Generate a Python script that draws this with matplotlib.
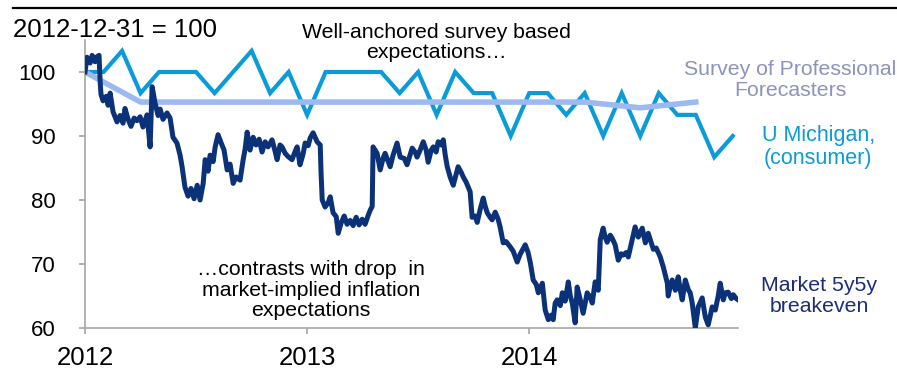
import numpy as np
import matplotlib
matplotlib.use("Agg")
import matplotlib.pyplot as plt
from matplotlib.lines import Line2D

plt.rcParams['font.family'] = ['Liberation Sans', 'DejaVu Sans']

# Market 5y5y breakeven, rebased (2012-12-31 = 100)
mkt_t = [2012.000, 2012.009, 2012.023, 2012.032, 2012.045, 2012.054, 2012.063, 2012.068,
         2012.072, 2012.081, 2012.095, 2012.104, 2012.113, 2012.126, 2012.144, 2012.158,
         2012.171, 2012.180, 2012.194, 2012.207, 2012.221, 2012.234, 2012.248, 2012.261,
         2012.279, 2012.293, 2012.302, 2012.315, 2012.329, 2012.338, 2012.351, 2012.369,
         2012.383, 2012.396, 2012.414, 2012.428, 2012.437, 2012.450, 2012.464, 2012.477,
         2012.491, 2012.505, 2012.518, 2012.532, 2012.541, 2012.554, 2012.563, 2012.577,
         2012.586, 2012.599, 2012.613, 2012.626, 2012.640, 2012.653, 2012.667, 2012.680,
         2012.698, 2012.712, 2012.721, 2012.730, 2012.743, 2012.757, 2012.770, 2012.784,
         2012.797, 2012.811, 2012.824, 2012.842, 2012.856, 2012.865, 2012.878, 2012.887,
         2012.901, 2012.914, 2012.932, 2012.946, 2012.955, 2012.968, 2012.982, 2012.991,
         2013.005, 2013.014, 2013.027, 2013.045, 2013.059, 2013.063, 2013.068, 2013.081,
         2013.095, 2013.104, 2013.117, 2013.131, 2013.140, 2013.153, 2013.167, 2013.180,
         2013.194, 2013.207, 2013.221, 2013.234, 2013.248, 2013.261, 2013.275, 2013.284,
         2013.293, 2013.297, 2013.306, 2013.315, 2013.329, 2013.342, 2013.351, 2013.365,
         2013.374, 2013.387, 2013.405, 2013.419, 2013.437, 2013.450, 2013.473, 2013.486,
         2013.495, 2013.509, 2013.523, 2013.536, 2013.545, 2013.559, 2013.568, 2013.581,
         2013.590, 2013.604, 2013.613, 2013.622, 2013.631, 2013.644, 2013.658, 2013.671,
         2013.680, 2013.694, 2013.703, 2013.716, 2013.734, 2013.743, 2013.757, 2013.766,
         2013.779, 2013.793, 2013.802, 2013.811, 2013.824, 2013.833, 2013.847, 2013.860,
         2013.869, 2013.883, 2013.896, 2013.914, 2013.928, 2013.946, 2013.959, 2013.982,
         2013.995, 2014.005, 2014.018, 2014.032, 2014.041, 2014.059, 2014.072, 2014.086,
         2014.099, 2014.108, 2014.117, 2014.126, 2014.140, 2014.149, 2014.162, 2014.176,
         2014.185, 2014.194, 2014.207, 2014.216, 2014.230, 2014.243, 2014.261, 2014.275,
         2014.284, 2014.297, 2014.311, 2014.320, 2014.333, 2014.342, 2014.351, 2014.365,
         2014.374, 2014.387, 2014.401, 2014.414, 2014.423, 2014.437, 2014.446, 2014.464,
         2014.477, 2014.491, 2014.509, 2014.523, 2014.536, 2014.545, 2014.559, 2014.572,
         2014.590, 2014.604, 2014.622, 2014.626, 2014.635, 2014.644, 2014.658, 2014.671,
         2014.680, 2014.689, 2014.703, 2014.716, 2014.725, 2014.734, 2014.748, 2014.761,
         2014.779, 2014.793, 2014.806, 2014.824, 2014.838, 2014.851, 2014.860, 2014.874,
         2014.883, 2014.896, 2014.910, 2014.919, 2014.932, 2014.941]
mkt_v = [100.0, 102.3, 101.4, 102.6, 101.6, 102.4, 102.6, 98.5,
         96.5, 95.5, 96.2, 94.8, 96.7, 93.8, 92.2, 93.2,
         92.0, 94.3, 92.6, 91.5, 92.8, 92.4, 93.0, 91.4,
         93.3, 88.3, 97.7, 95.2, 93.2, 94.2, 92.6, 93.6,
         92.8, 89.8, 88.9, 87.0, 85.2, 82.0, 80.6, 81.8,
         80.2, 82.3, 80.0, 82.6, 86.3, 84.5, 87.0, 86.0,
         88.3, 90.2, 88.9, 87.8, 84.7, 85.6, 82.6, 83.6,
         83.1, 86.3, 88.0, 90.6, 87.8, 89.8, 88.6, 89.5,
         87.5, 89.1, 88.3, 89.4, 87.6, 86.3, 88.6, 88.3,
         87.3, 86.8, 86.3, 87.6, 88.3, 85.5, 87.2, 88.9,
         88.5, 89.7, 90.5, 89.1, 88.6, 84.0, 80.0, 78.9,
         79.6, 80.5, 78.0, 77.4, 74.8, 76.4, 77.5, 76.2,
         76.8, 76.0, 77.3, 76.1, 77.0, 76.2, 77.6, 78.4,
         79.0, 88.3, 87.8, 87.3, 84.7, 86.5, 87.3, 86.0,
         85.2, 87.0, 88.9, 86.7, 86.5, 85.5, 88.1, 87.5,
         86.7, 87.8, 89.1, 87.8, 85.9, 87.8, 88.3, 87.5,
         89.1, 88.6, 89.4, 87.0, 85.2, 83.6, 82.3, 84.0,
         85.2, 84.3, 83.6, 82.8, 81.3, 77.3, 77.5, 76.5,
         78.5, 80.3, 79.0, 78.0, 77.3, 76.9, 78.1, 77.0,
         75.8, 73.3, 73.5, 72.7, 72.0, 70.3, 71.5, 73.0,
         71.8, 70.2, 67.5, 66.8, 65.5, 67.0, 62.8, 61.3,
         62.0, 61.3, 63.9, 64.4, 63.5, 65.5, 64.2, 67.2,
         65.0, 63.9, 60.8, 66.4, 64.4, 62.3, 65.5, 64.8,
         63.9, 67.2, 65.9, 73.8, 75.6, 74.2, 73.4, 74.5,
         74.0, 73.0, 70.6, 71.6, 71.4, 71.8, 71.1, 73.8,
         75.8, 74.2, 75.6, 73.3, 74.8, 73.8, 72.3, 72.5,
         71.1, 69.5, 67.0, 65.0, 66.5, 67.5, 65.9, 68.0,
         66.0, 64.4, 67.5, 66.0, 65.5, 63.9, 60.0, 63.3,
         64.7, 61.7, 60.5, 63.3, 62.8, 65.0, 67.0, 64.4,
         65.5, 65.6, 64.6, 65.2, 64.6, 64.4]

# U Michigan consumer survey, monthly Jan 2012 - Dec 2014
mich_v = [100.0, 100.0, 103.3, 96.7, 100.0, 100.0, 100.0, 96.7, 100.0, 103.3,
          96.7, 100.0, 93.3, 100.0, 100.0, 100.0, 100.0, 96.7, 100.0, 93.3,
          100.0, 96.7, 96.7, 90.0, 96.7, 96.7, 93.3, 96.7, 90.0, 96.7,
          90.0, 96.7, 93.3, 93.3, 86.7, 90.0]

# Survey of Professional Forecasters, quarterly from Q1 2012
spf_v = [100.0, 95.3, 95.3, 95.3, 95.3, 95.3, 95.3, 95.3, 95.3, 95.3, 94.4, 95.3]

c_mkt = '#0B3278'
c_mich = '#0A9BD8'
c_spf = '#9DB9F2'

mich_t = 2012 + np.arange(len(mich_v)) / 12
spf_t = 2012 + np.arange(len(spf_v)) / 4

fig = plt.figure(figsize=(8.97, 3.71), dpi=100)
ax = fig.add_axes([0.0948, 0.1159, 0.7279, 0.7763])

ax.plot(mich_t, mich_v, color=c_mich, lw=3.0, solid_joinstyle='miter', zorder=2)
ax.plot(spf_t, spf_v, color=c_spf, lw=4.0, zorder=3)
ax.plot(mkt_t, mkt_v, color=c_mkt, lw=3.6, zorder=4)

ax.set_xlim(2012, 2014.94)
ax.set_ylim(60, 105)
ax.set_xticks([2012, 2013, 2014])
ax.set_xticklabels(['2012', '2013', '2014'])
ax.set_yticks([60, 70, 80, 90, 100])

for s in ['top', 'right']:
    ax.spines[s].set_visible(False)
for s in ['left', 'bottom']:
    ax.spines[s].set_color('#A6A6A6')
    ax.spines[s].set_linewidth(1.2)
ax.tick_params(axis='both', colors='#A6A6A6', labelcolor='black',
               length=4, width=1.2, direction='out')
ax.tick_params(axis='y', pad=17, labelsize=16)
ax.tick_params(axis='x', pad=9, labelsize=18.5)

# annotations
fig.text(0.015, 0.919, '2012-12-31 = 100', fontsize=18.5, va='center', ha='left')
fig.text(0.487, 0.885, 'Well-anchored survey based\nexpectations…', fontsize=15.3,
         ha='center', va='center', linespacing=1.1)
fig.text(0.347, 0.218, '…contrasts with drop  in\nmarket-implied inflation\nexpectations',
         fontsize=15.3, ha='center', va='center', linespacing=1.1)
fig.text(0.881, 0.784, 'Survey of Professional\nForecasters', fontsize=15.3,
         color='#8C94BE', ha='center', va='center', linespacing=1.1)
fig.text(0.912, 0.603, 'U Michigan,\n(consumer)', fontsize=15.5,
         color=c_mich, ha='center', va='center', linespacing=1.1)
fig.text(0.913, 0.202, 'Market 5y5y\nbreakeven', fontsize=15.3,
         color='#1C2C78', ha='center', va='center', linespacing=1.1)

# rule across the top
fig.add_artist(Line2D([0.014, 1.0], [0.978, 0.978], color='black', lw=1.6))

fig.savefig('out.png', dpi=100)
